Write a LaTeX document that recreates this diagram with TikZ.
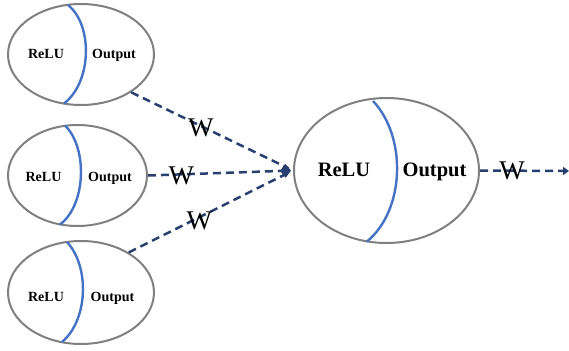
\documentclass[tikz,border=0pt]{standalone}
\usepackage{fontspec}
\setmainfont{Liberation Serif}
\usetikzlibrary{shapes.geometric,arrows.meta}
\definecolor{rimgray}{RGB}{128,128,128}
\definecolor{splitblue}{RGB}{68,114,196}
\definecolor{linknavy}{RGB}{40,64,112}
\begin{document}
\begin{tikzpicture}[x=1pt,y=-1pt,
  cell/.style={ellipse, draw=rimgray, line width=2pt, inner sep=0pt},
  split/.style={draw=splitblue, line width=2.4pt},
  smalltxt/.style={font=\fontsize{14}{16}\selectfont\bfseries, inner sep=0pt, text height=9.2pt, text depth=0pt},
  bigtxt/.style={font=\fontsize{20.5}{24}\selectfont\bfseries, inner sep=0pt, text height=13.5pt, text depth=0pt},
  link/.style={draw=linknavy, line width=2.5pt, dash pattern=on 8pt off 5pt},
  wlabel/.style={font=\fontsize{27}{30}\selectfont, inner sep=0pt, text height=17.8pt, text depth=0pt}]

\useasboundingbox (0,0) rectangle (569,350);

% input neurons
\node[cell, minimum width=146pt, minimum height=101pt] (n1) at (81,54.5) {};
\node[cell, minimum width=139pt, minimum height=101pt] (n2) at (77.5,175.5) {};
\node[cell, minimum width=146pt, minimum height=103pt] (n3) at (81,292.5) {};
% output neuron
\node[cell, minimum width=185pt, minimum height=145pt] (big) at (386.5,170.5) {};

% dividing arcs
\draw[split] (68,5) .. controls (93,25) and (92,82) .. (64,103.5);
\draw[split] (65,125.5) .. controls (88,148) and (86,205) .. (60,224.5);
\draw[split] (67,242) .. controls (90,267) and (88,320) .. (62,342);
\draw[split] (373,101) .. controls (407,137) and (405,210) .. (367,241.5);

% labels
\node[smalltxt] (r1) at (46,53.5) {ReLU};
\node[smalltxt] (o1) at (114,53.5) {Output};
\node[smalltxt] (r2) at (43.5,177) {ReLU};
\node[smalltxt] (o2) at (110,177) {Output};
\node[smalltxt] (r3) at (46,297) {ReLU};
\node[smalltxt] (o3) at (112.5,297) {Output};
\node[bigtxt] (rb) at (344,170) {ReLU};
\node[bigtxt] (ob) at (434.5,170) {Output};

% weighted connections
\draw[link, shorten >=5pt] (n1.-37) -- node[wlabel, pos=0.43, yshift=-2pt] (w1) {W} (big.west);
\draw[link, shorten >=2pt, -{Diamond[length=11pt,width=14pt]}] (n2.east) -- node[wlabel, pos=0.23, yshift=-1pt] (w2) {W} (big.west);
\draw[link, shorten >=5pt] (n3.40) -- node[wlabel, pos=0.43, yshift=-3pt] (w3) {W} (big.west);

\coordinate (sink) at (569,171);
\draw[link, -{Triangle[length=6pt,width=8pt]}] (big.east) -- node[wlabel, pos=0.36] (w4) {W} (sink);
\end{tikzpicture}
\end{document}
